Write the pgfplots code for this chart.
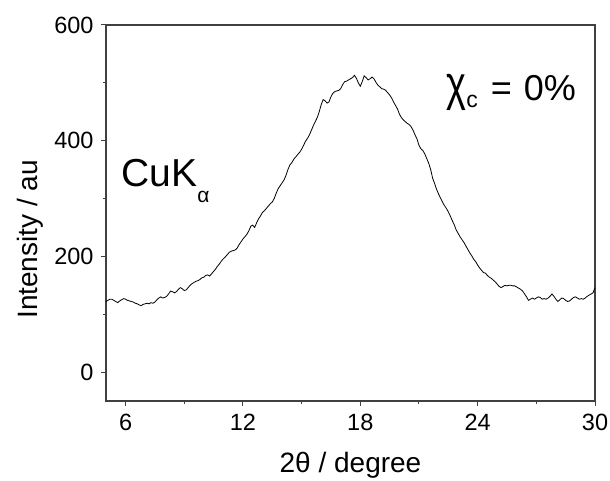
\documentclass[border=0pt]{standalone}
\usepackage{pgfplots}
\pgfplotsset{compat=1.18}
\usepackage{fontspec}
\setmainfont{Liberation Sans}
\begin{document}
\begin{tikzpicture}
\path[use as bounding box] (0,0) rectangle (610pt,480pt);
\begin{axis}[
  at={(106pt,79pt)}, anchor=south west, scale only axis,
  width=489pt, height=376pt,
  xmin=5, xmax=30, ymin=-50, ymax=600,
  xtick={6,12,18,24,30}, ytick={0,200,400,600},
  minor xtick={9,15,21,27}, minor ytick={100,300,500},
  tick pos=left, tick align=outside,
  major tick length=5pt, minor tick length=3pt,
  axis line style={draw=black!75, line width=1.1pt},
  every tick/.style={black!75, line width=1pt},
  /pgf/number format/assume math mode=true,
  ticklabel style={font=\fontsize{23.5}{27}\selectfont},
  xticklabel style={yshift=-5pt},
  yticklabel style={xshift=-4pt},
  xlabel={2θ / degree}, ylabel={Intensity / au},
  label style={font=\fontsize{28}{32}\selectfont},
  xlabel style={at={(axis description cs:0.5,-0.189)}, anchor=base},
  ylabel style={at={(axis description cs:-0.141,0.43)}, anchor=base},
]
\addplot[black, line width=0.8pt] coordinates {
(5.0,122)(5.1,124)(5.2,126)(5.3,126)(5.4,124)(5.5,122)(5.6,120)(5.7,123)(5.8,125)(5.9,127)
(6.0,126)(6.1,124)(6.2,123)(6.3,122)(6.4,121)(6.5,119)(6.6,118)(6.7,116)(6.8,115)(6.9,117)
(7.0,118)(7.1,119)(7.2,118)(7.3,120)(7.4,119)(7.5,121)(7.6,125)(7.7,128)(7.8,130)(7.9,128)
(8.0,129)(8.1,131)(8.2,135)(8.3,140)(8.4,139)(8.5,137)(8.6,139)(8.7,143)(8.8,146)(8.9,144)
(9.0,141)(9.1,142)(9.2,146)(9.3,150)(9.4,153)(9.5,155)(9.6,157)(9.7,158)(9.8,160)(9.9,163)
(10.0,164)(10.1,167)(10.2,168)(10.3,166)(10.4,170)(10.5,174)(10.6,178)(10.7,183)(10.8,187)(10.9,192)
(11.0,196)(11.1,199)(11.2,203)(11.3,207)(11.4,209)(11.5,210)(11.6,211)(11.7,214)(11.8,220)(11.9,225)
(12.0,230)(12.1,234)(12.2,238)(12.3,244)(12.4,252)(12.5,254)(12.6,250)(12.7,258)(12.8,265)(12.9,270)
(13.0,276)(13.1,279)(13.2,283)(13.3,287)(13.4,291)(13.5,294)(13.6,300)(13.7,309)(13.8,317)(13.9,322)
(14.0,327)(14.1,332)(14.2,340)(14.3,350)(14.4,358)(14.5,362)(14.6,368)(14.7,372)(14.8,376)(14.9,380)
(15.0,385)(15.1,392)(15.2,399)(15.3,404)(15.4,410)(15.5,418)(15.6,426)(15.7,433)(15.8,440)(15.9,450)
(16.0,462)(16.1,471)(16.2,469)(16.3,465)(16.4,467)(16.5,476)(16.6,482)(16.7,485)(16.8,486)(16.9,487)
(17.0,490)(17.1,497)(17.2,502)(17.3,503)(17.4,505)(17.5,507)(17.6,509)(17.7,513)(17.8,508)(17.9,500)
(18.0,494)(18.1,502)(18.2,512)(18.3,509)(18.4,505)(18.5,507)(18.6,510)(18.7,507)(18.8,501)(18.9,496)
(19.0,493)(19.1,490)(19.2,489)(19.3,487)(19.4,483)(19.5,479)(19.6,474)(19.7,467)(19.8,461)(19.9,455)
(20.0,446)(20.1,440)(20.2,436)(20.3,433)(20.4,430)(20.5,428)(20.6,424)(20.7,418)(20.8,410)(20.9,403)
(21.0,392)(21.1,386)(21.2,383)(21.3,377)(21.4,369)(21.5,361)(21.6,350)(21.7,335)(21.8,326)(21.9,316)
(22.0,308)(22.1,301)(22.2,294)(22.3,288)(22.4,283)(22.5,277)(22.6,270)(22.7,262)(22.8,255)(22.9,246)
(23.0,240)(23.1,234)(23.2,229)(23.3,224)(23.4,218)(23.5,212)(23.6,206)(23.7,201)(23.8,195)(23.9,191)
(24.0,185)(24.1,180)(24.2,176)(24.3,172)(24.4,171)(24.5,167)(24.6,164)(24.7,162)(24.8,159)(24.9,156)
(25.0,152)(25.1,148)(25.2,146)(25.3,148)(25.4,150)(25.5,149)(25.6,150)(25.7,150)(25.8,149)(25.9,149)
(26.0,147)(26.1,145)(26.2,143)(26.3,140)(26.4,135)(26.5,130)(26.6,124)(26.7,126)(26.8,128)(26.9,126)
(27.0,128)(27.1,130)(27.2,129)(27.3,126)(27.4,127)(27.5,126)(27.6,128)(27.7,131)(27.8,135)(27.9,131)
(28.0,126)(28.1,122)(28.2,125)(28.3,128)(28.4,127)(28.5,124)(28.6,122)(28.7,123)(28.8,126)(28.9,129)
(29.0,130)(29.1,128)(29.2,126)(29.3,127)(29.4,126)(29.5,128)(29.6,131)(29.7,133)(29.8,135)(29.9,137)
(30.0,146)
};
\node[anchor=base west, inner sep=0pt, font=\fontsize{39}{44}\selectfont]
  at (axis cs:5.78,320) {CuK\raisebox{-16pt}{\fontsize{21}{21}\selectfont α}};
\node[anchor=base west, inner sep=0pt, font=\fontsize{36}{40}\selectfont]
  at (axis cs:22.40,470) {\scalebox{1.05}[1.35]{χ}\raisebox{-7pt}{\fontsize{23}{23}\selectfont c}\hspace{13pt}=\hspace{12pt}0\%};
\end{axis}
\end{tikzpicture}
\end{document}
